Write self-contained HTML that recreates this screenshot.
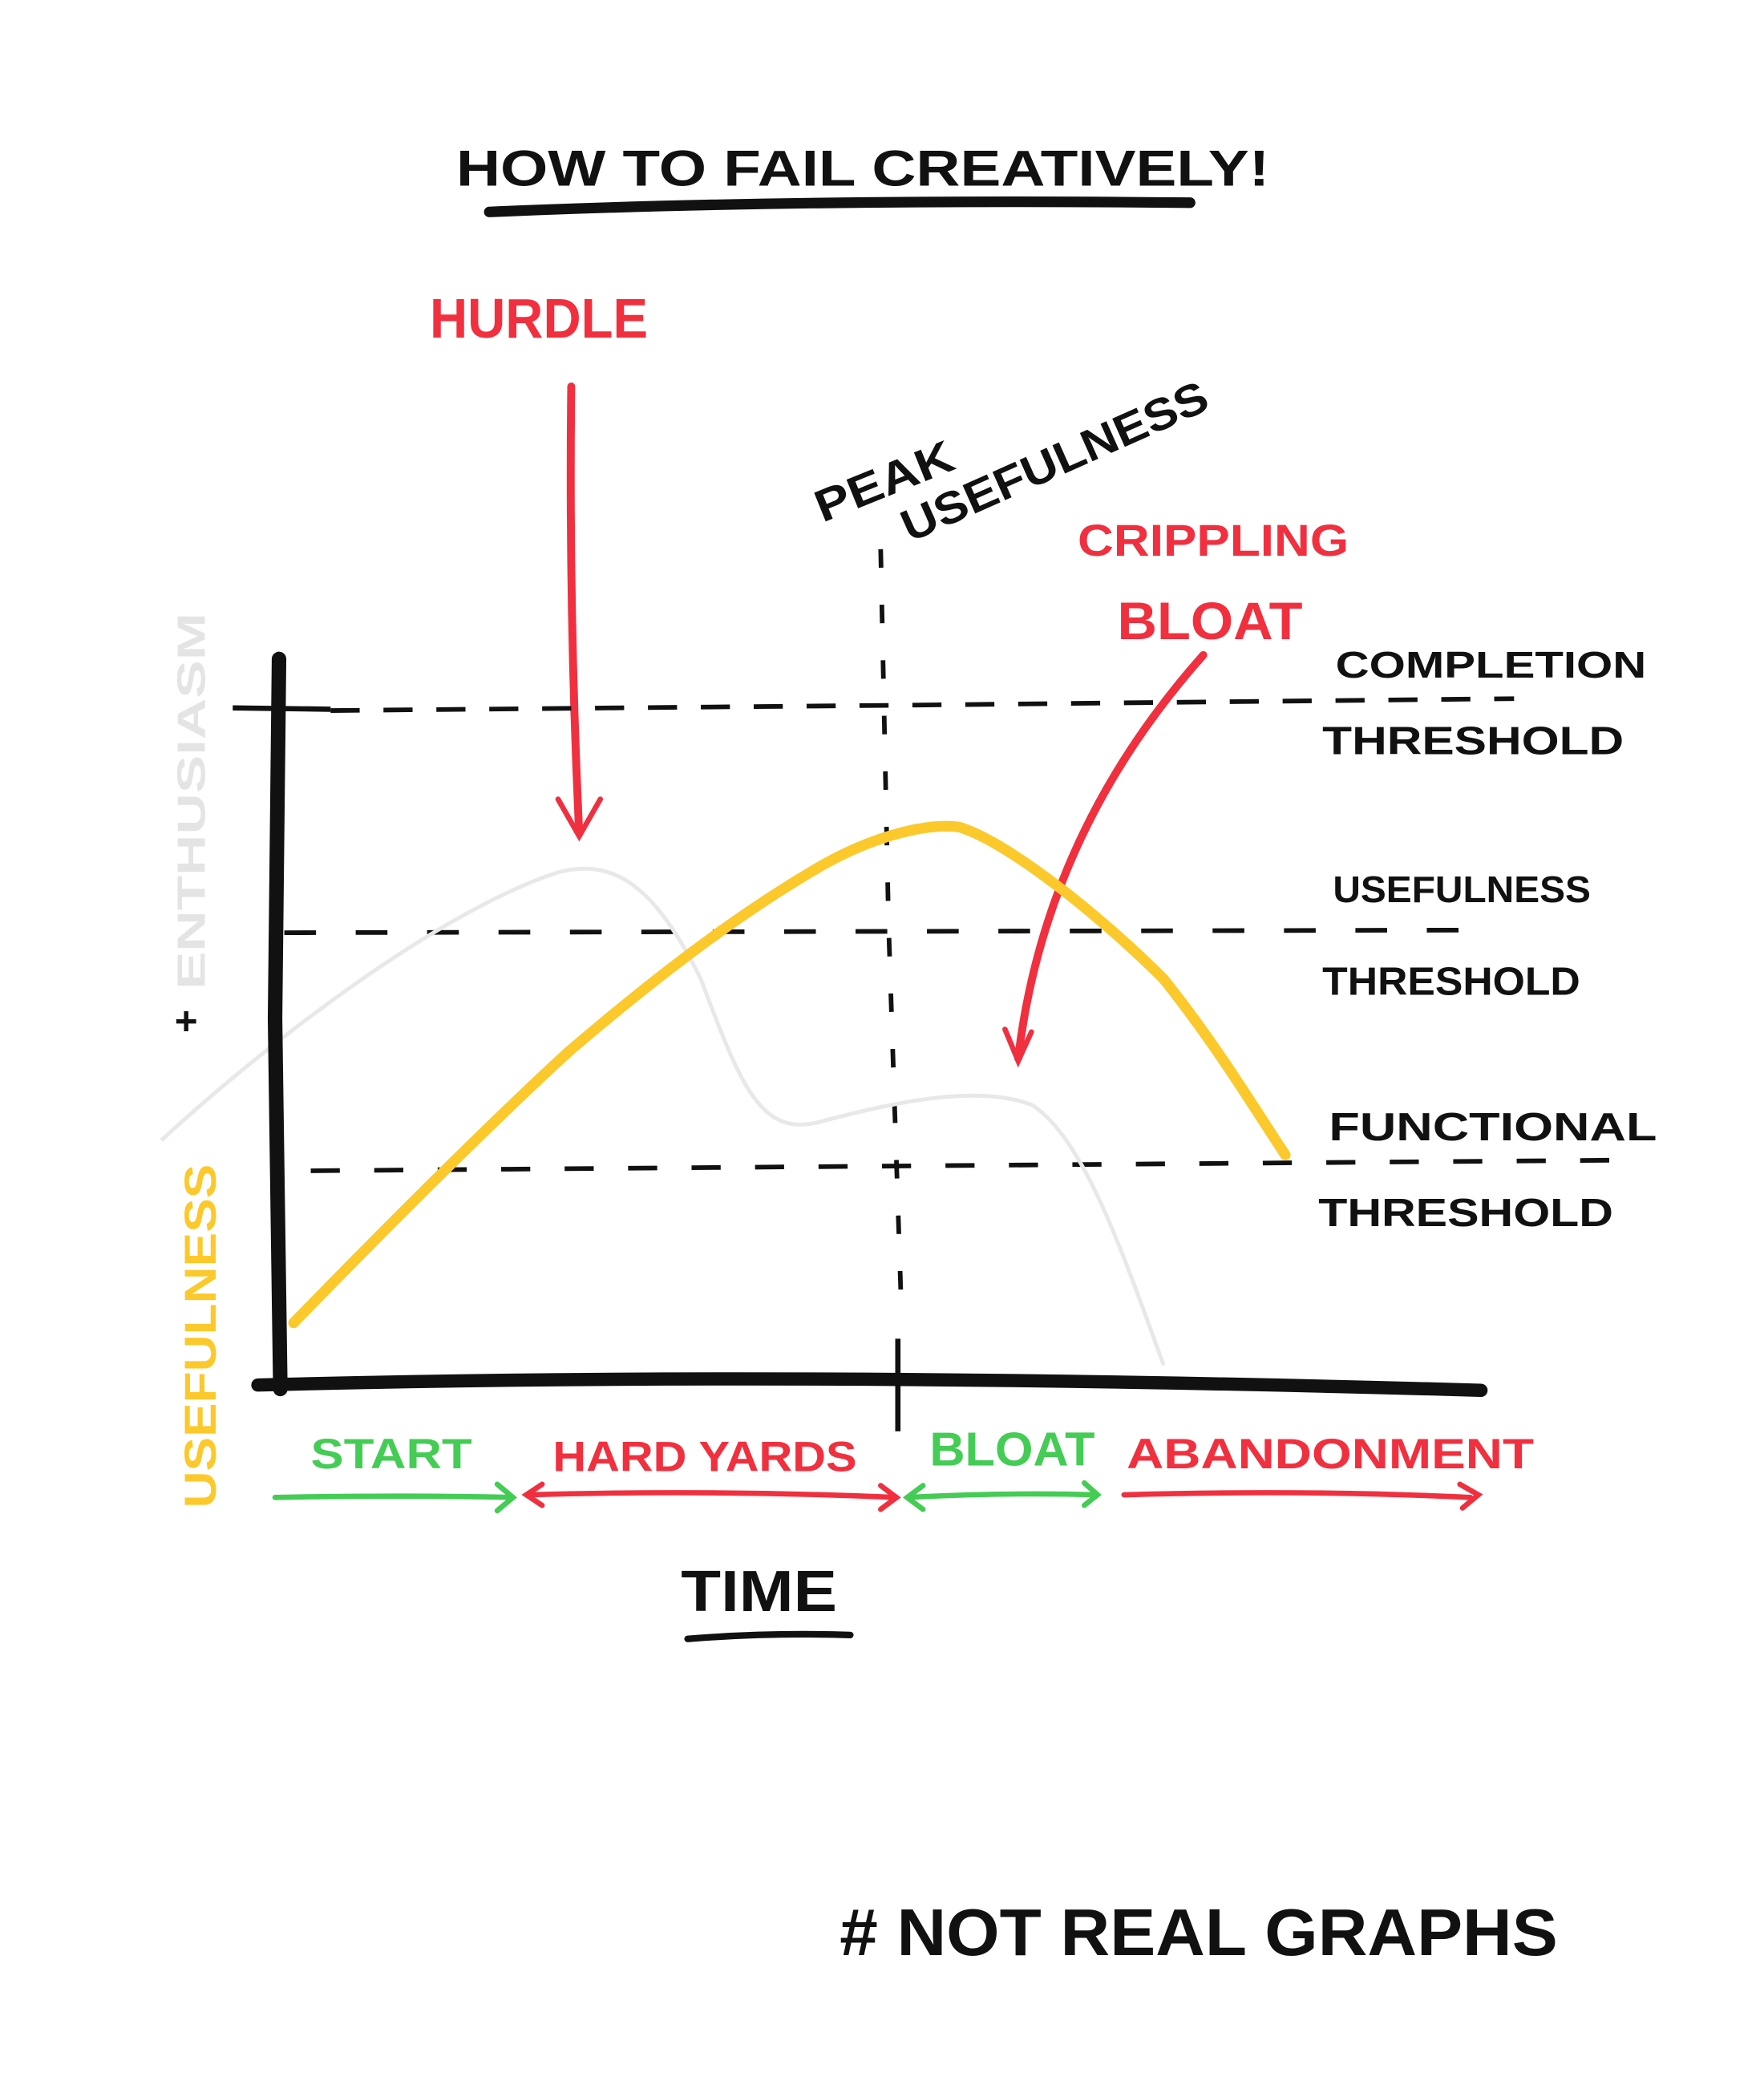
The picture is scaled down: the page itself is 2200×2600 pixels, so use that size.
<!DOCTYPE html>
<html><head><meta charset="utf-8"><style>
html,body{margin:0;padding:0;background:#fff;}
svg{display:block;}
text{font-family:"Liberation Sans",sans-serif;font-weight:bold;}
</style></head><body>
<svg width="2200" height="2600" viewBox="0 0 1334 1576" xmlns="http://www.w3.org/2000/svg">
<rect width="1334" height="1576" fill="#fff"/>
<text x="345" y="140" font-size="38" fill="#111" textLength="615" lengthAdjust="spacingAndGlyphs">HOW TO FAIL CREATIVELY!</text>
<path d="M370 160 Q600 150 900 153" stroke="#111" stroke-width="8" fill="none" stroke-linecap="round"/>
<text x="325" y="255" font-size="42" fill="#f0303f" textLength="165" lengthAdjust="spacingAndGlyphs">HURDLE</text>
<path d="M432 292 Q430 460 438 630" stroke="#f0303f" stroke-width="6" fill="none" stroke-linecap="round"/>
<path d="M422 604 L438 632 L454 604" stroke="#f0303f" stroke-width="4" fill="none" stroke-linecap="round"/>
<text x="622" y="395" font-size="34" fill="#111" transform="rotate(-22 622 395)" textLength="110" lengthAdjust="spacingAndGlyphs">PEAK</text>
<text x="688" y="410" font-size="34" fill="#111" transform="rotate(-24 688 410)" textLength="250" lengthAdjust="spacingAndGlyphs">USEFULNESS</text>
<path d="M666 415 L672 700 L682 1000" stroke="#111" stroke-width="3.5" fill="none" stroke-dasharray="14 28"/>
<text x="815" y="420" font-size="34" fill="#f0303f" textLength="205" lengthAdjust="spacingAndGlyphs">CRIPPLING</text>
<text x="845" y="483" font-size="40" fill="#f0303f" textLength="140" lengthAdjust="spacingAndGlyphs">BLOAT</text>
<path d="M910 495 Q790 630 770 800" stroke="#f0303f" stroke-width="6" fill="none" stroke-linecap="round"/>
<path d="M760 778 L770 802 L780 780" stroke="#f0303f" stroke-width="4" fill="none" stroke-linecap="round"/>
<path d="M250 537 L680 533 L1145 528" stroke="#111" stroke-width="3.5" fill="none" stroke-dasharray="22 18"/>
<path d="M215 705 L1110 703" stroke="#111" stroke-width="3.5" fill="none" stroke-dasharray="24 30"/>
<path d="M235 885 L1220 877" stroke="#111" stroke-width="3.5" fill="none" stroke-dasharray="22 26"/>
<text x="1010" y="512" font-size="28" fill="#111" textLength="235" lengthAdjust="spacingAndGlyphs">COMPLETION</text>
<text x="1000" y="570" font-size="30" fill="#111" textLength="228" lengthAdjust="spacingAndGlyphs">THRESHOLD</text>
<text x="1008" y="682" font-size="28" fill="#111" textLength="195" lengthAdjust="spacingAndGlyphs">USEFULNESS</text>
<text x="1000" y="752" font-size="30" fill="#111" textLength="195" lengthAdjust="spacingAndGlyphs">THRESHOLD</text>
<text x="1005" y="862" font-size="30" fill="#111" textLength="248" lengthAdjust="spacingAndGlyphs">FUNCTIONAL</text>
<text x="997" y="927" font-size="30" fill="#111" textLength="223" lengthAdjust="spacingAndGlyphs">THRESHOLD</text>
<path d="M122 862 C200 790 330 690 420 660 C470 645 500 680 530 740 C560 820 575 860 620 848 C680 832 740 820 780 835 C820 860 850 950 880 1032" stroke="#e8e8e8" stroke-width="3" fill="none"/>
<path d="M222 1000 C300 920 370 850 430 795 C500 735 560 690 620 655 C660 632 700 622 725 625 C760 635 830 690 880 740 C920 790 950 840 972 873" stroke="#fcc92c" stroke-width="8" fill="none" stroke-linecap="round"/>
<path d="M211 498 L208 770 L212 1050" stroke="#111" stroke-width="11" fill="none" stroke-linecap="round"/>
<path d="M176 535 L250 536" stroke="#111" stroke-width="4" fill="none"/>
<path d="M195 1047 Q600 1036 1120 1051" stroke="#111" stroke-width="10" fill="none" stroke-linecap="round"/>
<path d="M679 1012 L679 1082" stroke="#111" stroke-width="4" fill="none"/>
<text x="0" y="0" font-size="30" fill="#e4e4e4" transform="translate(155 748) rotate(-90)" textLength="285" lengthAdjust="spacingAndGlyphs">ENTHUSIASM</text>
<text x="132" y="782" font-size="30" fill="#111">+</text>
<text x="0" y="0" font-size="34" fill="#fcc92c" transform="translate(163 1140) rotate(-90)" textLength="260" lengthAdjust="spacingAndGlyphs">USEFULNESS</text>
<text x="235" y="1110" font-size="32" fill="#44cc55" textLength="122" lengthAdjust="spacingAndGlyphs">START</text>
<text x="418" y="1112" font-size="32" fill="#f0303f" textLength="230" lengthAdjust="spacingAndGlyphs">HARD YARDS</text>
<text x="703" y="1108" font-size="36" fill="#44cc55" textLength="125" lengthAdjust="spacingAndGlyphs">BLOAT</text>
<text x="852" y="1110" font-size="32" fill="#f0303f" textLength="308" lengthAdjust="spacingAndGlyphs">ABANDONMENT</text>
<g stroke-width="4" fill="none" stroke-linecap="round">
<path d="M208 1132 Q300 1130 388 1132" stroke="#44cc55"/><path d="M376 1122 L388 1132 L376 1142" stroke="#44cc55"/>
<path d="M398 1130 Q540 1126 678 1132" stroke="#f0303f"/><path d="M410 1122 L398 1130 L410 1138 M666 1123 L678 1132 L666 1141" stroke="#f0303f"/>
<path d="M686 1132 Q760 1128 830 1130" stroke="#44cc55"/><path d="M698 1123 L686 1132 L698 1141 M820 1121 L830 1130 L820 1138" stroke="#44cc55"/>
<path d="M850 1130 Q990 1126 1112 1132" stroke="#f0303f"/><path d="M1104 1122 L1118 1130 L1106 1140" stroke="#f0303f"/>
</g>
<text x="515" y="1218" font-size="44" fill="#111" textLength="118" lengthAdjust="spacingAndGlyphs">TIME</text>
<path d="M520 1239 Q580 1234 643 1236" stroke="#111" stroke-width="5" fill="none" stroke-linecap="round"/>
<text x="635" y="1478" font-size="50" fill="#111" textLength="543" lengthAdjust="spacingAndGlyphs"># NOT REAL GRAPHS</text>
</svg>
</body></html>
